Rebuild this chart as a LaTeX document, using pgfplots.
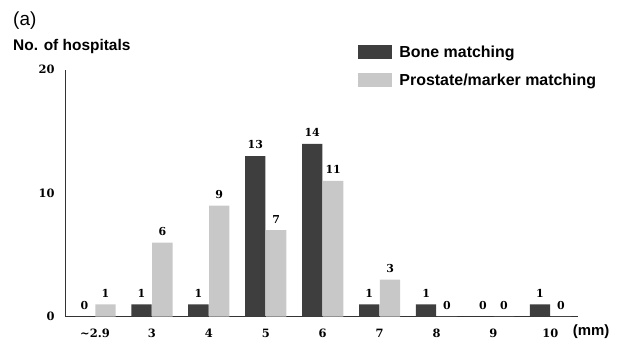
\documentclass[border=0pt]{standalone}
\usepackage{fontspec}
\setmainfont{DejaVu Serif}
\setsansfont{Liberation Sans}
\usepackage{pgfplots}
\pgfplotsset{compat=1.18}
\definecolor{darkbar}{HTML}{3E3E3E}
\definecolor{lightbar}{HTML}{C8C8C8}
\begin{document}
\begin{tikzpicture}
\useasboundingbox (-65bp,-26.3bp) rectangle (562bp,316.7bp);
\begin{axis}[
  at={(0,0)}, anchor=south west,
  scale only axis, width=512.7bp, height=247bp,
  xmin=-0.527, xmax=8.48, ymin=0, ymax=20,
  axis x line=bottom, axis y line=left,
  axis line style={-, black!80, line width=0.9bp},
  major tick length=0pt,
  ytick={0,10,20},
  xtick={0,1,2,3,4,5,6,7,8},
  xticklabels={\textasciitilde2.9,3,4,5,6,7,8,9,10},
  /pgf/number format/assume math mode=true,
  ticklabel style={font=\bfseries\fontsize{11.5}{13}\selectfont},
  xticklabel style={yshift=-9bp},
  yticklabel style={xshift=-7bp},
  ybar=0.6bp, bar width=20.3bp,
  clip=false,
  nodes near coords,
  every node near coord/.append style={font=\bfseries\fontsize{11}{13}\selectfont, inner sep=0pt, anchor=south, yshift=7bp},
  legend style={draw=none, fill=none, at={(axis description cs:0.572,1.10)}, anchor=north west,
    font=\sffamily\bfseries\fontsize{16}{18}\selectfont, row sep=14bp, inner sep=0pt,
    nodes={inner sep=0pt, anchor=west}},
  legend cell align=left,
  legend image code/.code={\fill[#1] (0bp,-7bp) rectangle (34bp,7bp); \path (41bp,0bp);},
]
\addplot[fill=darkbar, draw=none] coordinates {(0,0) (1,1) (2,1) (3,13) (4,14) (5,1) (6,1) (7,0) (8,1)};
\addlegendentry{Bone matching}
\addplot[fill=lightbar, draw=none] coordinates {(0,1) (1,6) (2,9) (3,7) (4,11) (5,3) (6,0) (7,0) (8,0)};
\addlegendentry{Prostate/marker matching}
\end{axis}
\node[anchor=west, font=\sffamily\fontsize{19}{22}\selectfont, inner sep=0pt] at (-52bp,295.7bp) {(a)};
\node[anchor=west, font=\sffamily\bfseries\fontsize{15.5}{18}\selectfont, inner sep=0pt] at (-52bp,269.7bp) {No. of hospitals};
\node[anchor=west, font=\sffamily\bfseries\fontsize{15}{18}\selectfont, inner sep=0pt] at (507.7bp,-15bp) {(mm)};
\end{tikzpicture}
\end{document}
